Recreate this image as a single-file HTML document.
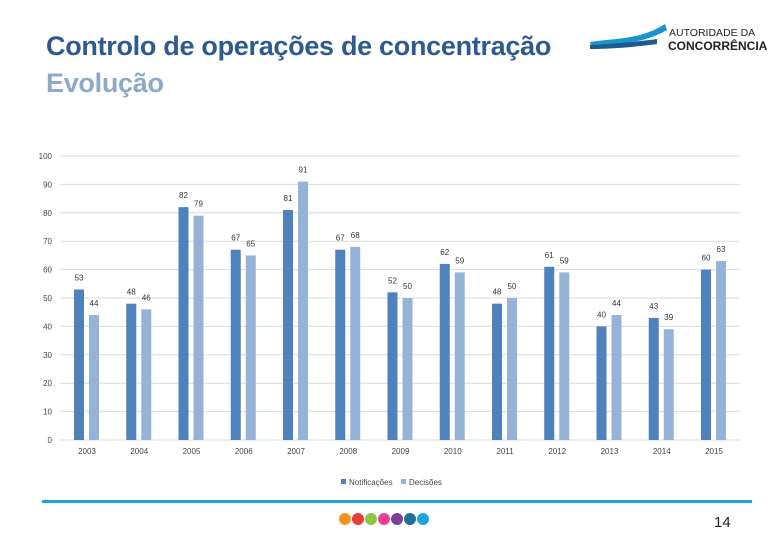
<!DOCTYPE html>
<html><head><meta charset="utf-8"><style>
body{margin:0;width:780px;height:540px;background:#fff;overflow:hidden;font-family:"Liberation Sans",sans-serif;position:relative}
.t{position:absolute;left:46px;font-size:27px;font-weight:bold;line-height:34px;letter-spacing:-0.3px}
</style></head><body>
<div class="t" style="top:29px;color:#2e5b8f">Controlo de operações de concentração</div>
<div class="t" style="top:66px;color:#8ea9c8">Evolução</div>
<svg style="position:absolute;left:585px;top:18px" width="195" height="40">
<path d="M5 24 C30 20 55 22 80 6 L82 12 C58 26 32 26 6 28Z" fill="#1a94d0"/>
<path d="M5 27 C25 26 50 24 72 21 L72 26 C50 29 25 31 5 31Z" fill="#1e5a8a"/>
<text x="84" y="18" font-size="10.5" fill="#222">AUTORIDADE DA</text>
<text x="83" y="32" font-size="12" font-weight="bold" fill="#222">CONCORRÊNCIA</text>
</svg>
<svg id="c" style="position:absolute;left:0;top:0" width="780" height="540"></svg>
<div style="position:absolute;left:42px;top:500px;width:710px;height:3px;background:#1aa3d8"></div>
<svg style="position:absolute;left:336px;top:510px" width="110" height="20">
<circle cx="9" cy="9" r="6" fill="#f7941d"/><circle cx="22" cy="9" r="6" fill="#e63c3c"/><circle cx="35" cy="9" r="6" fill="#8cc63f"/><circle cx="48" cy="9" r="6" fill="#e84393"/><circle cx="61" cy="9" r="6" fill="#7b3f98"/><circle cx="74" cy="9" r="6" fill="#1f6f9a"/><circle cx="87" cy="9" r="6" fill="#1ba6e0"/>
</svg>
<div style="position:absolute;left:714px;top:514px;font-size:15px;color:#222">14</div>
<script>
const categories=["2003","2004","2005","2006","2007","2008","2009","2010","2011","2012","2013","2014","2015"];
const notificacoes=[53,48,82,67,81,67,52,62,48,61,40,43,60];
const decisoes=[44,46,79,65,91,68,50,59,50,59,44,39,63];
const yTicks=[0,10,20,30,40,50,60,70,80,90,100];
const NS="http://www.w3.org/2000/svg",svg=document.getElementById('c');
const y=v=>440-v*2.84, xc=i=>87+i*52.25;
function mk(t,a,txt){const e=document.createElementNS(NS,t);for(const k in a)e.setAttribute(k,a[k]);if(txt!=null)e.textContent=txt;svg.appendChild(e);return e;}
yTicks.forEach(v=>{
const l=mk('line',{x1:60,x2:740,y1:y(v),y2:y(v),stroke:'#d9d9d9','stroke-width':1});


const t=mk('text',{x:52,y:y(v)+3,'font-size':8,fill:'#444','text-anchor':'end'},v);


});
categories.forEach((c,i)=>{
const x=xc(i);
[[notificacoes[i],x-13,'#4f81bd'],[decisoes[i],x+2,'#95b3d7']].forEach(([v,bx,col],j)=>{
const r=mk('rect',{x:bx,y:y(v),width:10,height:y(0)-y(v),fill:col});


const t=mk('text',{x:bx+5,y:y(v)-9,'font-size':8,fill:'#333','text-anchor':'middle'},v);


});
const t=mk('text',{x:x,y:454,'font-size':8,fill:'#444','text-anchor':'middle'},c);


});
[['#4f81bd',341,'Notificações','legend-notificacoes'],['#95b3d7',401,'Decisões','legend-decisoes']].forEach(([col,x,lab,n])=>{
const r=mk('rect',{x:x,y:479,width:5,height:5,fill:col});


const t=mk('text',{x:x+8,y:485,'font-size':8,fill:'#444'},lab);


});
</script>
</body></html>
